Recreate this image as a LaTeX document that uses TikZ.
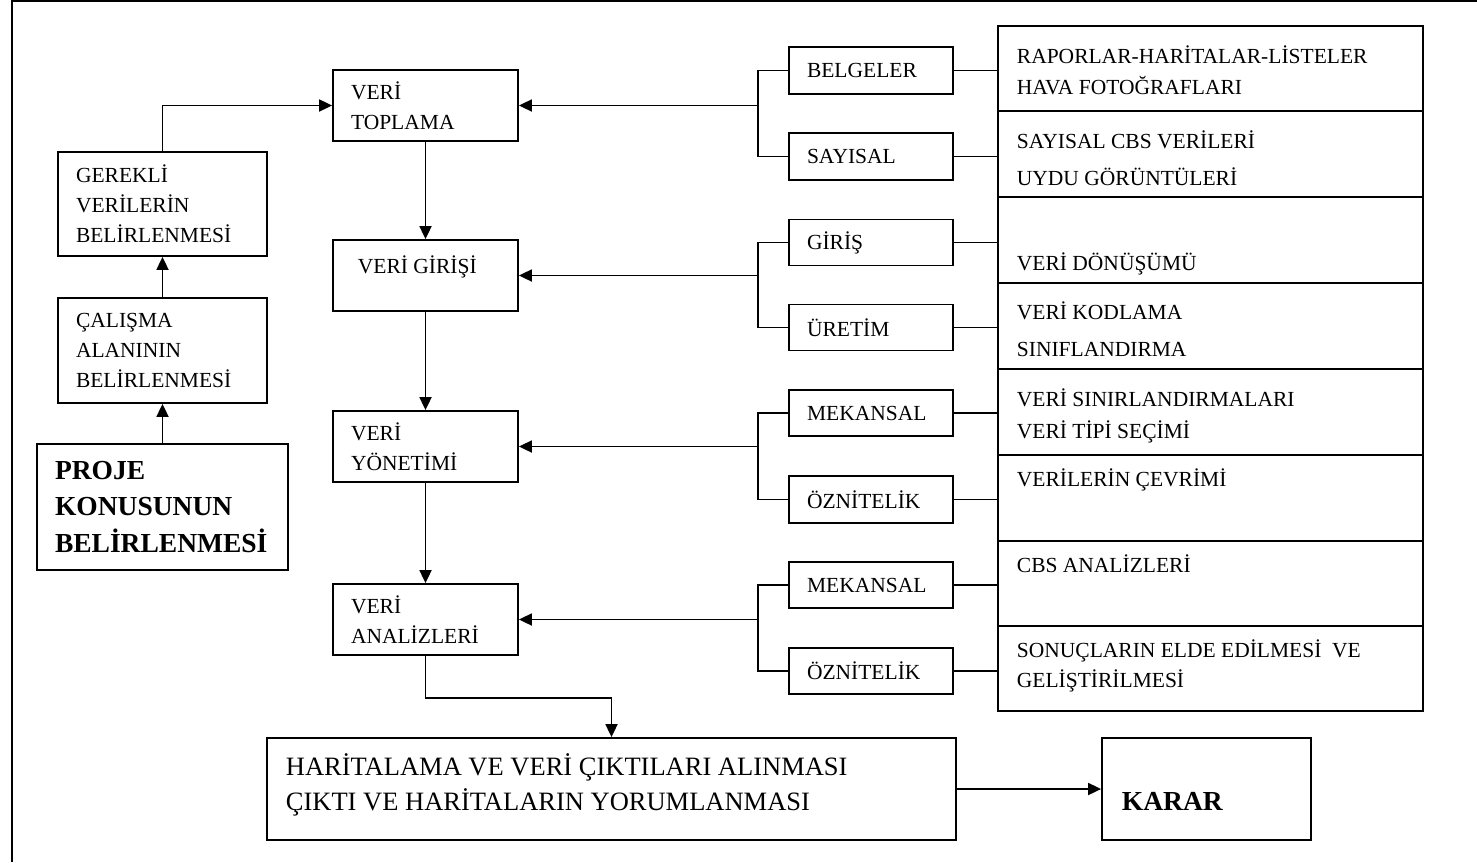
\documentclass[tikz,border=0pt]{standalone}
\usepackage{fontspec}
\setmainfont{Liberation Serif}
\usetikzlibrary{arrows.meta}

\begin{document}
\begin{tikzpicture}[x=1pt,y=-1pt,line width=1.8pt,>={Triangle[length=13pt,width=12pt]},
  kutu/.style={draw,align=left,inner xsep=18pt,inner ysep=0pt,font=\fontsize{21.5}{30}\selectfont},
  hucre/.style={draw,minimum width=425pt,minimum height=85.6pt},
  yazi/.style={anchor=base west,inner sep=0pt,font=\fontsize{21.5}{30}\selectfont}]
  \useasboundingbox (0,0) rectangle (1477,862);
  \draw (12,862) -- (12,1) -- (1477,1);

  % sol sutun
  \node[kutu,text width=173pt,minimum height=104pt] (gerekli) at (162.5,204) {GEREKLİ\\VERİLERİN\\BELİRLENMESİ};
  \node[kutu,text width=173pt,minimum height=105pt] (calisma) at (162.5,350.5) {ÇALIŞMA\\ALANININ\\BELİRLENMESİ};
  \node[kutu,text width=215pt,minimum height=126pt,font=\bfseries\fontsize{27.5}{36.5}\selectfont] (proje) at (162.5,507) {PROJE\\KONUSUNUN\\BELİRLENMESİ};

  % orta sutun
  \node[kutu,text width=149pt,minimum height=71pt] (toplama) at (425.5,105.5) {VERİ\\TOPLAMA};
  \node[kutu,text width=149pt,minimum height=71pt] (giris) at (425.5,275.5) {};
  \node[yazi] (giristxt) at (357,273.5) {VERİ GİRİŞİ};
  \node[kutu,text width=149pt,minimum height=71pt] (yonetim) at (425.5,446.5) {VERİ\\YÖNETİMİ};
  \node[kutu,text width=149pt,minimum height=71pt] (analiz) at (425.5,619.5) {VERİ\\ANALİZLERİ};

  % alt kutular
  \node[kutu,text width=128pt,minimum height=47pt] (belge) at (871,70.5) {BELGELER};
  \node[kutu,text width=128pt,minimum height=47pt] (sayisal) at (871,156.5) {SAYISAL};
  \node[kutu,text width=128pt,minimum height=46pt] (girisalt) at (871,242.5) {GİRİŞ};
  \node[kutu,text width=128pt,minimum height=46pt] (uretim) at (871,327.5) {ÜRETİM};
  \node[kutu,text width=128pt,minimum height=46pt] (mekan1) at (871,413) {MEKANSAL};
  \node[kutu,text width=128pt,minimum height=47pt] (oznit1) at (871,499.5) {ÖZNİTELİK};
  \node[kutu,text width=128pt,minimum height=46pt] (mekan2) at (871,585) {MEKANSAL};
  \node[kutu,text width=128pt,minimum height=46pt] (oznit2) at (871,671) {ÖZNİTELİK};

  % sag tablo
  \node[hucre] (r1) at (1210.5,68.5) {};
  \node[hucre] (r2) at (1210.5,154) {};
  \node[hucre] (r3) at (1210.5,240) {};
  \node[hucre] (r4) at (1210.5,326) {};
  \node[hucre] (r5) at (1210.5,412) {};
  \node[hucre] (r6) at (1210.5,498) {};
  \node[hucre] (r7) at (1210.5,583.5) {};
  \node[hucre] (r8) at (1210.5,668.5) {};
  \node[yazi] (t1a) at (1016,63) {RAPORLAR-HARİTALAR-LİSTELER};
  \node[yazi] (t1b) at (1016,94) {HAVA FOTOĞRAFLARI};
  \node[yazi] (t2a) at (1016,148) {SAYISAL CBS VERİLERİ};
  \node[yazi] (t2b) at (1016,185) {UYDU GÖRÜNTÜLERİ};
  \node[yazi] (t3a) at (1016,270) {VERİ DÖNÜŞÜMÜ};
  \node[yazi] (t4a) at (1016,319) {VERİ KODLAMA};
  \node[yazi] (t4b) at (1016,356) {SINIFLANDIRMA};
  \node[yazi] (t5a) at (1016,406) {VERİ SINIRLANDIRMALARI};
  \node[yazi] (t5b) at (1016,438) {VERİ TİPİ SEÇİMİ};
  \node[yazi] (t6a) at (1016,486) {VERİLERİN ÇEVRİMİ};
  \node[yazi] (t7a) at (1016,572) {CBS ANALİZLERİ};
  \node[yazi] (t8a) at (1016,657) {SONUÇLARIN ELDE EDİLMESİ~ VE};
  \node[yazi] (t8b) at (1016,687) {GELİŞTİRİLMESİ};

  % en alt
  \node[kutu,minimum width=689pt,minimum height=102pt] (harita) at (611.5,789) {};
  \node[yazi,font=\fontsize{26.5}{35}\selectfont] (harita1) at (285,775) {HARİTALAMA VE VERİ ÇIKTILARI ALINMASI};
  \node[yazi,font=\fontsize{26.5}{35}\selectfont] (harita2) at (285,810) {ÇIKTI VE HARİTALARIN YORUMLANMASI};
  \node[kutu,minimum width=209pt,minimum height=102pt] (karar) at (1206.5,789) {};
  \node[yazi,font=\bfseries\fontsize{27.5}{36}\selectfont] (karartxt) at (1121,810.5) {KARAR};

  % oklar
  \draw[->] (proje) -- (calisma);
  \draw[->] (calisma) -- (gerekli);
  \draw[->] (gerekli.north) |- (toplama.west);
  \draw[->] (toplama) -- (giris);
  \draw[->] (giris) -- (yonetim);
  \draw[->] (yonetim) -- (analiz);
  \draw[->] (analiz.south) -- ++(0,42) -| (harita.north);
  \draw[->] (harita.east |- karar.west) -- (karar.west);

  \draw (belge.west) -- ++(-30,0) |- (sayisal.west);
  \draw[->] ([xshift=-30pt]belge.west |- toplama.east) -- (toplama.east);
  \draw (girisalt.west) -- ++(-30,0) |- (uretim.west);
  \draw[->] ([xshift=-30pt]girisalt.west |- giris.east) -- (giris.east);
  \draw (mekan1.west) -- ++(-30,0) |- (oznit1.west);
  \draw[->] ([xshift=-30pt]mekan1.west |- yonetim.east) -- (yonetim.east);
  \draw (mekan2.west) -- ++(-30,0) |- (oznit2.west);
  \draw[->] ([xshift=-30pt]mekan2.west |- analiz.east) -- (analiz.east);

  \draw (belge.east) -- (belge.east -| r1.west);
  \draw (sayisal.east) -- (sayisal.east -| r2.west);
  \draw (girisalt.east) -- (girisalt.east -| r3.west);
  \draw (uretim.east) -- (uretim.east -| r4.west);
  \draw (mekan1.east) -- (mekan1.east -| r5.west);
  \draw (oznit1.east) -- (oznit1.east -| r6.west);
  \draw (mekan2.east) -- (mekan2.east -| r7.west);
  \draw (oznit2.east) -- (oznit2.east -| r8.west);
\end{tikzpicture}
\end{document}
